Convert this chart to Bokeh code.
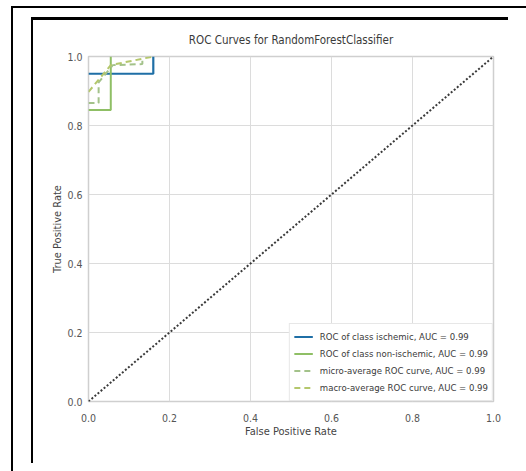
from bokeh.plotting import figure
from bokeh.layouts import column
from bokeh.models import Range1d, FixedTicker, Legend, LegendItem, Div, CustomJSTickFormatter
from bokeh.embed import file_html
from bokeh.resources import INLINE

# ---- data ----
ischemic_fpr = [0.0, 0.16, 0.16]
ischemic_tpr = [0.95, 0.95, 1.0]
nonischemic_fpr = [0.0, 0.055, 0.055]
nonischemic_tpr = [0.845, 0.845, 1.0]
micro_fpr = [0.0, 0.025, 0.025, 0.06, 0.133, 0.133]
micro_tpr = [0.865, 0.865, 0.925, 0.975, 0.978, 1.0]
macro_fpr = [0.0, 0.055, 0.16]
macro_tpr = [0.8975, 0.975, 1.0]
chance_fpr = [0.0, 1.0]
chance_tpr = [0.0, 1.0]
ticks = [0.0, 0.2, 0.4, 0.6, 0.8, 1.0]
labels = ["ROC of class ischemic, AUC = 0.99",
          "ROC of class non-ischemic, AUC = 0.99",
          "micro-average ROC curve, AUC = 0.99",
          "macro-average ROC curve, AUC = 0.99"]

FONT = "DejaVu Sans Condensed, Liberation Sans, sans-serif"

p = figure(width=526, height=471, output_backend="svg", toolbar_location=None,
           x_range=Range1d(0, 1), y_range=Range1d(0, 1),
           min_border_left=88, min_border_right=33, min_border_top=56, min_border_bottom=70,
           title="ROC Curves for RandomForestClassifier")
p.background_fill_color = "white"
p.border_fill_color = "white"
p.outline_line_color = "#cfcfcf"
p.outline_line_width = 1.5

p.title.align = "center"
p.title.text_font = FONT
p.title.text_font_size = "11.5px"
p.title.text_font_style = "normal"
p.title.text_color = "#3a3a3a"
p.title.standoff = 19
p.title.padding = (0, 0, 5, 0)

for ax in (p.xaxis[0], p.yaxis[0]):
    ax.ticker = FixedTicker(ticks=ticks)
    ax.formatter = CustomJSTickFormatter(code="return tick.toFixed(1);")
    ax.axis_line_color = None
    ax.major_tick_line_color = None
    ax.minor_tick_line_color = None
    ax.major_label_text_font = FONT
    ax.major_label_text_font_size = "10.5px"
    ax.major_label_text_color = "#555555"
    ax.axis_label_text_font = FONT
    ax.axis_label_text_font_size = "11px"
    ax.axis_label_text_font_style = "normal"
    ax.axis_label_text_color = "#444444"
p.xaxis.major_label_standoff = 6
p.xaxis.axis_label_standoff = 0
p.yaxis.major_label_standoff = 0
p.yaxis.axis_label_standoff = 0
p.xaxis.axis_label = "False Positive Rate"
p.yaxis.axis_label = "True Positive Rate"
p.yaxis.major_label_orientation = "horizontal"

p.grid.grid_line_color = "#dcdcdc"
p.grid.grid_line_width = 1

r1 = p.line(ischemic_fpr, ischemic_tpr, line_color="#1f6fa6", line_width=2.2)
r2 = p.line(nonischemic_fpr, nonischemic_tpr, line_color="#8fbf65", line_width=2)
r3 = p.line(micro_fpr, micro_tpr, line_color="#a3c28a", line_width=2, line_dash="6 4")
r4 = p.line(macro_fpr, macro_tpr, line_color="#b4c76c", line_width=2, line_dash="6 4")
p.line(chance_fpr, chance_tpr, line_color="#3a3a3a", line_width=2, line_dash="2 2")

legend = Legend(items=[LegendItem(label=labels[0], renderers=[r1]),
                       LegendItem(label=labels[1], renderers=[r2]),
                       LegendItem(label=labels[2], renderers=[r3]),
                       LegendItem(label=labels[3], renderers=[r4])],
                location="bottom_right")
legend.label_text_font = FONT
legend.label_text_font_size = "9.5px"
legend.label_text_color = "#3a3a3a"
legend.glyph_width = 19
legend.glyph_height = 17
legend.label_height = 17
legend.spacing = 0
legend.padding = 4
legend.margin = 0
legend.border_line_color = "#d0d0d0"
legend.background_fill_alpha = 1
legend.label_standoff = 7
p.add_layout(legend, "center")

# screenshot frame lines (fixed-position strokes over the page)
frame_html = (
    '<div style="position:fixed;left:11px;top:6px;width:515px;height:2px;background:#000;z-index:10"></div>'
    '<div style="position:fixed;left:11px;top:6px;width:2px;height:465px;background:#000;z-index:10"></div>'
    '<div style="position:fixed;left:31px;top:17px;width:477px;height:3px;background:#000;z-index:10"></div>'
    '<div style="position:fixed;left:31px;top:17px;width:2px;height:446px;background:#000;z-index:10"></div>'
)
frame = Div(text=frame_html, width=1, height=1)

layout = column(p, frame)
open("out.html", "w").write(file_html(layout, INLINE))
